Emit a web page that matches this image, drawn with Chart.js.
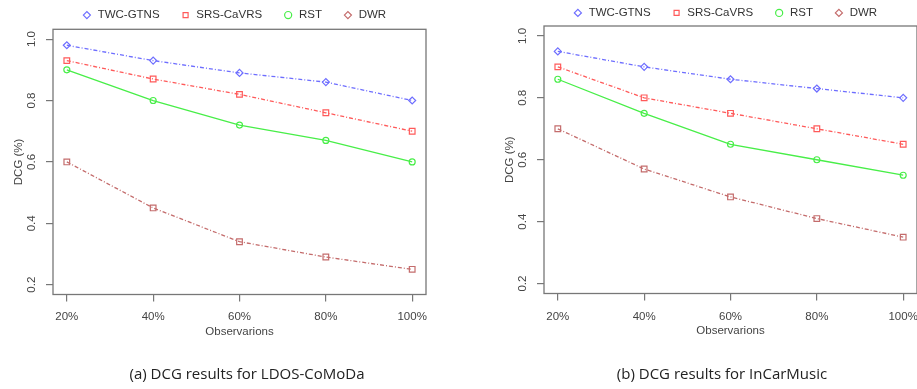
<!DOCTYPE html>
<html>
<head>
<meta charset="utf-8">
<script src="https://cdn.jsdelivr.net/npm/chart.js@4.4.1/dist/chart.umd.min.js"></script>
<style>
  body { margin: 0; width: 917px; height: 389px; overflow: hidden; background: #fff; position: relative; }
  canvas { position: absolute; top: 0; }
  .cap { position: absolute; top: 363px; font: 15px 'Open Sans', sans-serif; color: #222; white-space: nowrap; transform: translateX(-50%); }
</style>
</head>
<body>
<canvas id="dcg-comoda" width="441" height="389" style="left:0"></canvas>
<canvas id="dcg-incar" width="441" height="389" style="left:491px"></canvas>
<div class="cap" style="left:247px">(a) DCG results for LDOS-CoMoDa</div>
<div class="cap" style="left:722px">(b) DCG results for InCarMusic</div>
<script>
  // x positions and tick labels
  const observations = [20, 40, 60, 80, 100];
  const xLabels = ['20%', '40%', '60%', '80%', '100%'];
  const yTicks = [0.2, 0.4, 0.6, 0.8, 1.0];
  const seriesNames = ['TWC-GTNS', 'SRS-CaVRS', 'RST', 'DWR'];

  // (a) LDOS-CoMoDa
  const comodaTwc = [0.98, 0.93, 0.89, 0.86, 0.80];
  const comodaSrs = [0.93, 0.87, 0.82, 0.76, 0.70];
  const comodaRst = [0.90, 0.80, 0.72, 0.67, 0.60];
  const comodaDwr = [0.60, 0.45, 0.34, 0.29, 0.25];

  // (b) InCarMusic
  const incarTwc = [0.95, 0.90, 0.86, 0.83, 0.80];
  const incarSrs = [0.90, 0.80, 0.75, 0.70, 0.65];
  const incarRst = [0.86, 0.75, 0.65, 0.60, 0.55];
  const incarDwr = [0.70, 0.57, 0.48, 0.41, 0.35];

  // styles
  const colors = ['#6e6eff', '#ff5a5a', '#48ee48', '#c46c6c'];
  const dashes = [[4, 2, 1, 2], [4, 2, 1, 2], [], [4, 2, 1, 2]];
  const pointStyles = ['rectRot', 'rect', 'circle', 'rect'];
  const pointRadii = [3.5, 4, 3, 4];
  const legendStyles = ['rectRot', 'rect', 'circle', 'rectRot'];

  Chart.defaults.font.family = "'Liberation Sans', Arial, sans-serif";
  Chart.defaults.font.size = 11.5;
  Chart.defaults.color = '#444';

  // R style box around the plot region
  const frame = {
    id: 'frame',
    beforeDatasetsDraw(chart) {
      const {ctx, chartArea: a} = chart;
      ctx.save();
      ctx.strokeStyle = '#777';
      ctx.lineWidth = 1.3;
      ctx.strokeRect(a.left, a.top, a.right - a.left, a.bottom - a.top);
      ctx.restore();
    }
  };

  // nudge the legend row (horizontal gap and row height share one padding value)
  const legendShift = {
    id: 'legendShift',
    afterUpdate(chart, args, opts) {
      const lg = chart.legend;
      lg.left += opts.x; lg.right += opts.x;
      lg.top += opts.y; lg.bottom += opts.y;
    }
  };

  function makePanel(id, series, p) {
    return new Chart(document.getElementById(id), {
      type: 'line',
      data: {
        datasets: series.map((vals, i) => ({
          label: seriesNames[i],
          data: observations.map((x, j) => ({x: x, y: vals[j]})),
          borderColor: colors[i],
          backgroundColor: 'rgba(255,255,255,0)',
          borderWidth: 1.3,
          borderDash: dashes[i],
          pointStyle: pointStyles[i],
          pointRadius: pointRadii[i],
          pointBorderWidth: 1.2,
          tension: 0
        }))
      },
      options: {
        responsive: false,
        animation: false,
        events: [],
        layout: { padding: { top: p.top, bottom: p.bottom, left: 0, right: 15 } },
        plugins: {
          tooltip: { enabled: false },
          legendShift: { x: 21, y: p.legendY },
          legend: {
            position: 'top',
            labels: {
              usePointStyle: true,
              boxWidth: 10,
              boxHeight: 5,
              padding: 21,
              color: '#333',
              generateLabels: chart => Chart.defaults.plugins.legend.labels.generateLabels(chart)
                .map((item, i) => Object.assign(item, { pointStyle: legendStyles[i], lineDash: [], fillStyle: 'rgba(0,0,0,0)' }))
            }
          }
        },
        scales: {
          x: {
            type: 'linear',
            min: 16.8,
            max: 103.2,
            afterBuildTicks: s => { s.ticks = observations.map(v => ({value: v})); },
            afterFit: s => { s.height = 50; },
            ticks: { padding: p.xTickPad, maxRotation: 0, autoSkip: false, callback: v => xLabels[observations.indexOf(v)] },
            grid: { display: true, drawOnChartArea: false, drawTicks: true, tickLength: 7, color: '#777', lineWidth: 1.2 },
            border: { display: false },
            title: { display: true, text: 'Observarions', padding: { top: 0, bottom: 5.9 } }
          },
          y: {
            min: 0.168,
            max: 1.032,
            afterBuildTicks: s => { s.ticks = yTicks.map(v => ({value: v})); },
            afterFit: s => { s.width = 53; },
            ticks: { minRotation: 90, maxRotation: 90, crossAlign: 'center', padding: 6.3, callback: v => v.toFixed(1) },
            grid: { display: true, drawOnChartArea: false, drawTicks: true, tickLength: 7, color: '#777', lineWidth: 1.2 },
            border: { display: false },
            title: { display: true, text: 'DCG (%)', padding: { top: 11.5, bottom: 0 } }
          }
        }
      },
      plugins: [frame, legendShift]
    });
  }

  const comodaChart = makePanel('dcg-comoda', [comodaTwc, comodaSrs, comodaRst, comodaDwr],
    { top: -13.2, bottom: 44.5, legendY: 1.5, xTickPad: 8.3 });
  const incarChart = makePanel('dcg-incar', [incarTwc, incarSrs, incarRst, incarDwr],
    { top: -16.5, bottom: 45.5, legendY: 2.7, xTickPad: 9.3 });
</script>
</body>
</html>
